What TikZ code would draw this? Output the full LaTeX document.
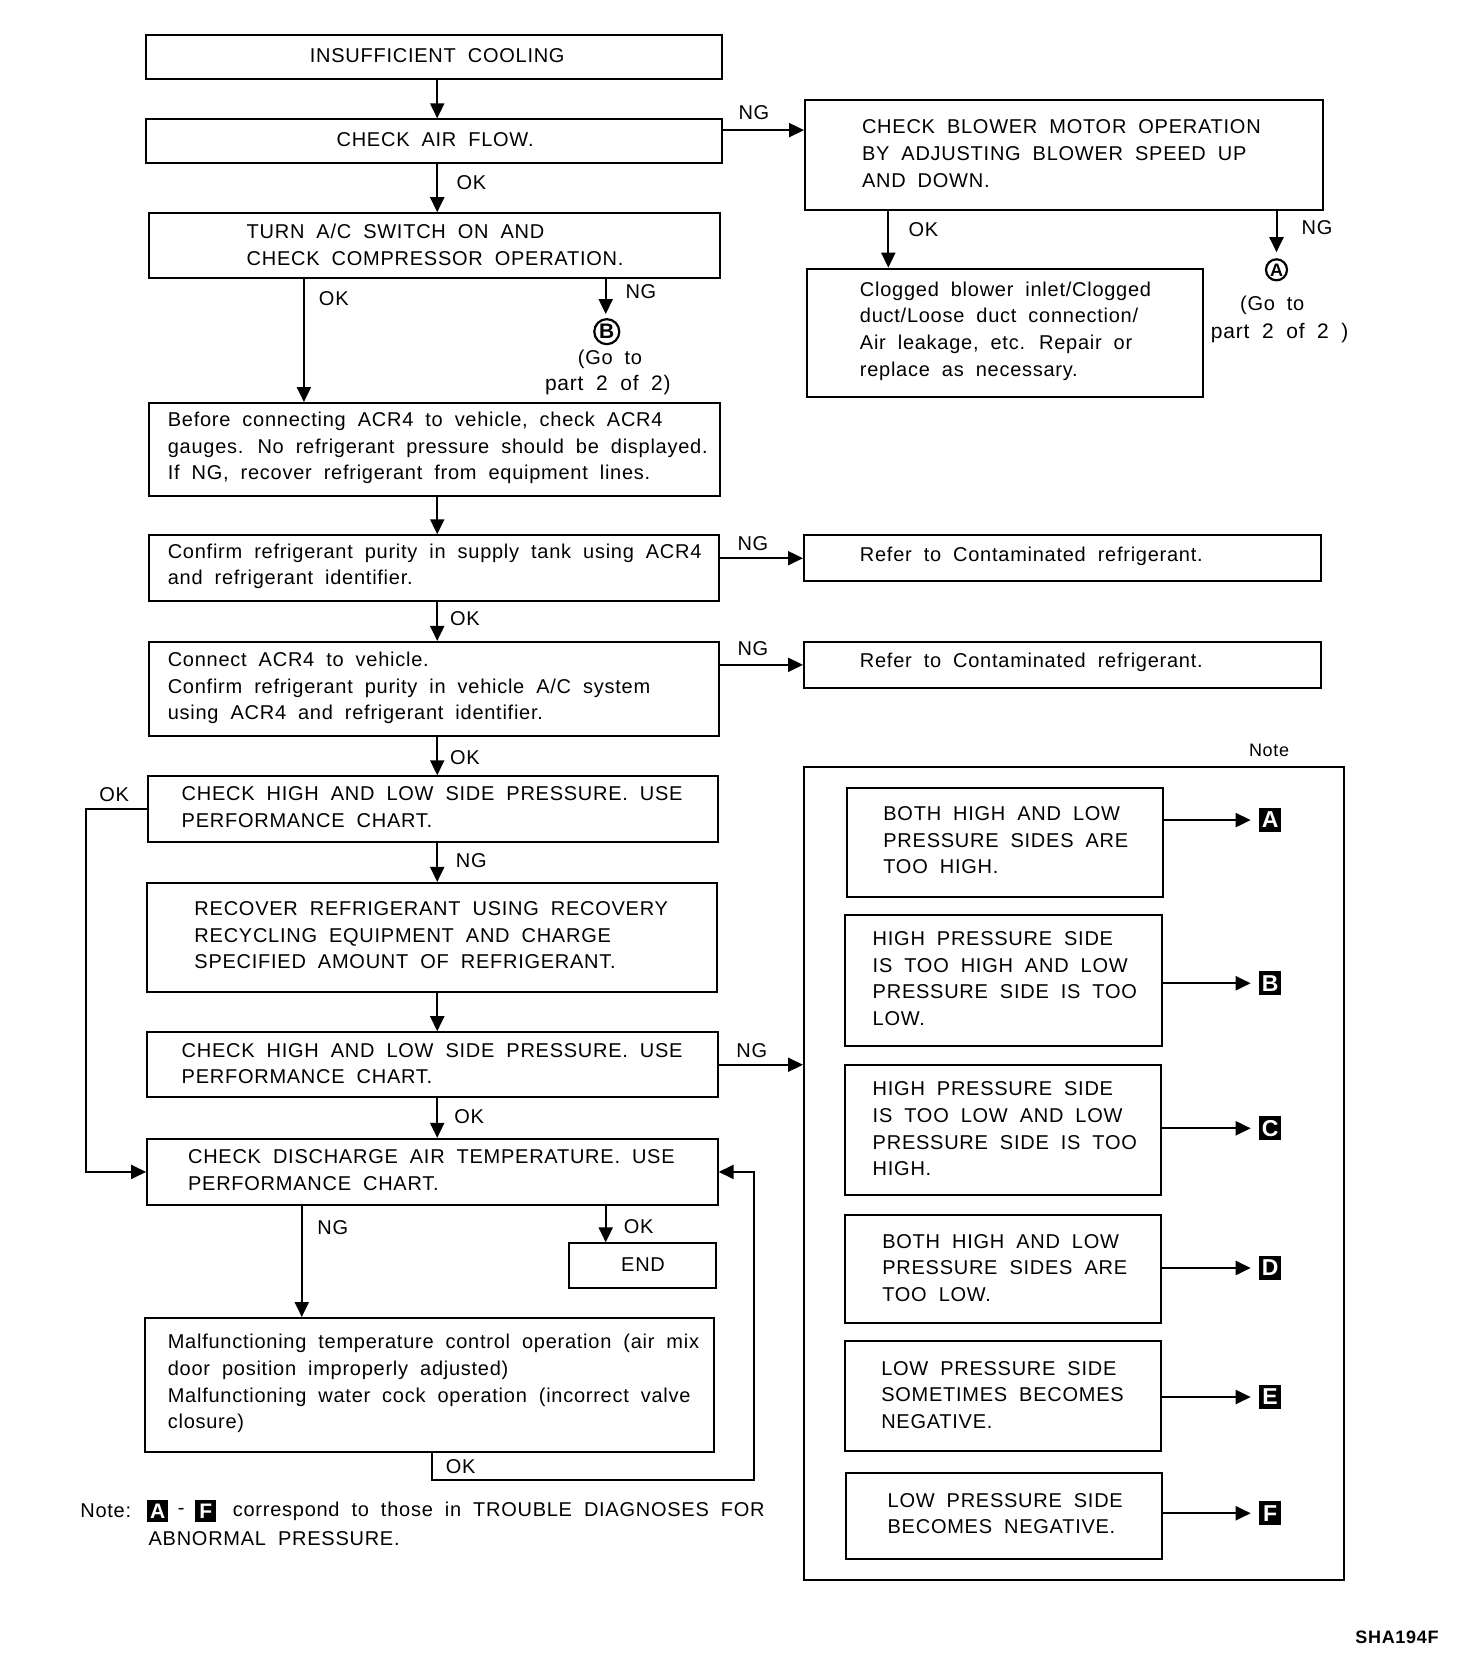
\documentclass[tikz,border=0pt]{standalone}
\usepackage{fontspec}
\setmainfont{Liberation Sans}[LetterSpace=3.7,WordSpace=1.9]
\usetikzlibrary{arrows.meta,calc}
\def\U{0.533pt}
\newcommand\bx[5]{\node[box, anchor=north west, minimum width={(#4-#2)*0.533pt}, minimum height={(#5-#3)*0.533pt}] (#1) at (#2,#3) {};}
\begin{document}
\begin{tikzpicture}[x=\U, y=-\U,
  box/.style={draw, line width=1pt, inner sep=0pt},
  txt/.style={align=left, inner sep=0pt, font=\fontsize{10}{13.3}\selectfont},
  lbl/.style={inner sep=0pt, font=\fontsize{10}{12}\selectfont},
  arr/.style={draw, line width=1pt, -{Triangle[length=7.5pt,width=7pt]}},
  circ/.style={circle, draw, line width=1.1pt, inner sep=0pt},
  blk/.style={fill=black, text=white, inner sep=0pt, minimum width=11pt, minimum height=12pt, font=\fontsize{11.5}{12}\bfseries}]
\useasboundingbox (0,0) rectangle (1366,1566);
% helper coordinates
\coordinate (colx) at (410,0);
\coordinate (c285) at (285,0);
\coordinate (c568) at (568,0);
\coordinate (c283) at (283,0);
\coordinate (c833) at (833,0);
\coordinate (c1197) at (1197,0);
\coordinate (ngy1) at (0,122);
\coordinate (lx) at (81,0);
\coordinate (r1) at (405,1388);
\coordinate (r2) at (707,1388);
% boxes
\bx{b1}{136}{32}{676}{73}
\bx{b2}{136}{111}{676}{152}
\bx{b3}{754}{93}{1240}{196}
\bx{b4}{756}{251}{1127}{371}
\bx{b5}{139}{199}{674}{260}
\bx{b6}{139}{377}{674}{464}
\bx{b7}{139}{501}{673}{563}
\bx{b8}{753}{501}{1238}{544}
\bx{b9}{139}{601}{673}{689}
\bx{b10}{753}{601}{1238}{644}
\bx{b11}{138}{727}{672}{789}
\bx{b12}{137}{827}{671}{929}
\bx{b13}{137}{967}{672}{1028}
\bx{b14}{137}{1067}{672}{1129}
\bx{b15}{533}{1165}{670}{1207}
\bx{b16}{135}{1235}{669}{1361}
\bx{note}{753}{718}{1259}{1481}
\bx{ia}{793}{738}{1090}{840}
\bx{ib}{791}{857}{1089}{980}
\bx{ic}{791}{998}{1088}{1120}
\bx{id}{791}{1138}{1088}{1240}
\bx{ie}{791}{1257}{1088}{1360}
\bx{if}{792}{1380}{1089}{1461}
% texts
\node[txt] (t1) at (410,52) {INSUFFICIENT COOLING};
\node[txt] (t2) at (408,131) {CHECK AIR FLOW.};
\node[txt, anchor=west] (t3) at (808,144) {CHECK BLOWER MOTOR OPERATION\\BY ADJUSTING BLOWER SPEED UP\\AND DOWN.};
\node[txt, anchor=west] (t4) at (806,310.5) {Clogged blower inlet/Clogged\\duct/Loose duct connection/\\Air leakage, etc. Repair or\\replace as necessary.};
\node[txt, anchor=west] (t5) at (231,229.5) {TURN A/C SWITCH ON AND\\CHECK COMPRESSOR OPERATION.};
\node[txt, anchor=west] (t6) at (157,420) {Before connecting ACR4 to vehicle, check ACR4\\gauges. No refrigerant pressure should be displayed.\\If NG, recover refrigerant from equipment lines.};
\node[txt, anchor=west] (t7) at (157,531) {Confirm refrigerant purity in supply tank using ACR4\\and refrigerant identifier.};
\node[txt, anchor=west] (t8) at (806,522) {Refer to Contaminated refrigerant.};
\node[txt, anchor=west] (t9) at (157,645) {Connect ACR4 to vehicle.\\Confirm refrigerant purity in vehicle A/C system\\using ACR4 and refrigerant identifier.};
\node[txt, anchor=west] (t10) at (806,621) {Refer to Contaminated refrigerant.};
\node[txt, anchor=west] (t11) at (170,757) {CHECK HIGH AND LOW SIDE PRESSURE. USE\\PERFORMANCE CHART.};
\node[txt, anchor=west] (t12) at (182,877) {RECOVER REFRIGERANT USING RECOVERY\\RECYCLING EQUIPMENT AND CHARGE\\SPECIFIED AMOUNT OF REFRIGERANT.};
\node[txt, anchor=west] (t13) at (170,997.5) {CHECK HIGH AND LOW SIDE PRESSURE. USE\\PERFORMANCE CHART.};
\node[txt, anchor=west] (t14) at (176,1097.5) {CHECK DISCHARGE AIR TEMPERATURE. USE\\PERFORMANCE CHART.};
\node[txt] (t15) at (603,1186) {END};
\node[txt, anchor=west] (t16) at (157,1297.5) {Malfunctioning temperature control operation (air mix\\door position improperly adjusted)\\Malfunctioning water cock operation (incorrect valve\\closure)};
\node[txt, anchor=west] (tia) at (828,788) {BOTH HIGH AND LOW\\PRESSURE SIDES ARE\\TOO HIGH.};
\node[txt, anchor=west] (tib) at (818,917.5) {HIGH PRESSURE SIDE\\IS TOO HIGH AND LOW\\PRESSURE SIDE IS TOO\\LOW.};
\node[txt, anchor=west] (tic) at (818,1058.5) {HIGH PRESSURE SIDE\\IS TOO LOW AND LOW\\PRESSURE SIDE IS TOO\\HIGH.};
\node[txt, anchor=west] (tid) at (827,1189) {BOTH HIGH AND LOW\\PRESSURE SIDES ARE\\TOO LOW.};
\node[txt, anchor=west] (tie) at (826,1308) {LOW PRESSURE SIDE\\SOMETIMES BECOMES\\NEGATIVE.};
\node[txt, anchor=west] (tif) at (832,1419.5) {LOW PRESSURE SIDE\\BECOMES NEGATIVE.};
% black labels
\node[blk] (la) at (1191,769) {A};
\node[blk] (lb) at (1191,922) {B};
\node[blk] (lc) at (1191,1058) {C};
\node[blk] (ld) at (1191,1189) {D};
\node[blk] (le) at (1191,1310) {E};
\node[blk] (lf) at (1191,1419) {F};
% circled
\node[circ, minimum size=10.5pt, font=\fontsize{9}{10}\bfseries] (ca) at (1197,253) {A};
\node[circ, minimum size=12.5pt, font=\fontsize{10.5}{12}\bfseries] (cb) at (569,311) {B};
\node[txt] (ga1) at (1193,286) {(Go to};
\node[txt, font=\fontsize{10.5}{13}\selectfont] (ga2) at (1200,312) {part 2 of 2 )};
\node[txt] (gb1) at (572,337) {(Go to};
\node[txt, font=\fontsize{10.5}{13}\selectfont] (gb2) at (570,361) {part 2 of 2)};
% connectors
\draw[arr] (b1.south -| colx) -- (b2.north -| colx);
\draw[arr] (b2.south -| colx) -- (b5.north -| colx);
\draw[arr] (b2.east |- ngy1) -- (b3.west |- ngy1);
\draw[arr] (b3.south -| c833) -- (b4.north -| c833);
\draw[arr, shorten >=3pt] (b3.south -| c1197) -- (ca.north);
\draw[arr, shorten >=2pt] (b5.south -| c568) -- (cb.north -| c568);
\draw[arr] (b5.south -| c285) -- (b6.north -| c285);
\draw[arr] (b6.south -| colx) -- (b7.north -| colx);
\draw[arr] (b7.east |- b8.west) -- (b8.west);
\draw[arr] (b7.south -| colx) -- (b9.north -| colx);
\draw[arr] (b9.east |- b10.west) -- (b10.west);
\draw[arr] (b9.south -| colx) -- (b11.north -| colx);
\draw[arr] (b11.south -| colx) -- (b12.north -| colx);
\draw[arr] (b12.south -| colx) -- (b13.north -| colx);
\draw[arr] (b13.east) -- (b13.east -| note.west);
\draw[arr] (b13.south -| colx) -- (b14.north -| colx);
\draw[arr] (b11.west) -- (b11.west -| lx) |- (b14.west);
\draw[arr] (b14.south -| c283) -- (b16.north -| c283);
\draw[arr] (b14.south -| c568) -- (b15.north -| c568);
\draw[arr] (b16.south -| r1) -- (r1) -- (r2) |- (b14.east);
\draw[arr, shorten >=4pt] (ia.east |- la.west) -- (la.west);
\draw[arr, shorten >=4pt] (ib.east |- lb.west) -- (lb.west);
\draw[arr, shorten >=4pt] (ic.east |- lc.west) -- (lc.west);
\draw[arr, shorten >=4pt] (id.east |- ld.west) -- (ld.west);
\draw[arr, shorten >=4pt] (ie.east |- le.west) -- (le.west);
\draw[arr, shorten >=4pt] (if.east |- lf.west) -- (lf.west);
% connector labels
\node[lbl] (l1) at (707,106) {NG};
\node[lbl] (l2) at (442,171) {OK};
\node[lbl] (l3) at (866,215) {OK};
\node[lbl] (l4) at (1235,213) {NG};
\node[lbl] (l5) at (601,273) {NG};
\node[lbl] (l6) at (313,280) {OK};
\node[lbl] (l7) at (706,510) {NG};
\node[lbl] (l8) at (436,580) {OK};
\node[lbl] (l9) at (706,608) {NG};
\node[lbl] (l10) at (436,710) {OK};
\node[lbl] (l11) at (107,745) {OK};
\node[lbl] (l12) at (442,807) {NG};
\node[lbl] (l13) at (705,985) {NG};
\node[lbl] (l14) at (440,1047) {OK};
\node[lbl] (l15) at (312,1151) {NG};
\node[lbl] (l16) at (599,1150) {OK};
\node[lbl] (l17) at (432,1375) {OK};
% notes
\node[lbl, font=\fontsize{9}{11}\selectfont] (nt0) at (1190,704) {Note};
\node[txt, anchor=west] (nt1) at (75,1417) {Note:};
\node[blk, minimum width=10.5pt, minimum height=11pt, font=\fontsize{10.5}{11}\bfseries] (nta) at (148,1417) {A};
\node[txt] (ntd) at (170,1417) {-};
\node[blk, minimum width=10.5pt, minimum height=11pt, font=\fontsize{10.5}{11}\bfseries] (ntf) at (193,1417) {F};
\node[txt, anchor=west] (nt2) at (218,1417) {correspond to those in TROUBLE DIAGNOSES FOR};
\node[txt, anchor=west] (nt3) at (139,1443) {ABNORMAL PRESSURE.};
\node[lbl, font=\fontsize{9}{11}\bfseries] (sha) at (1310,1535) {SHA194F};
\end{tikzpicture}
\end{document}
